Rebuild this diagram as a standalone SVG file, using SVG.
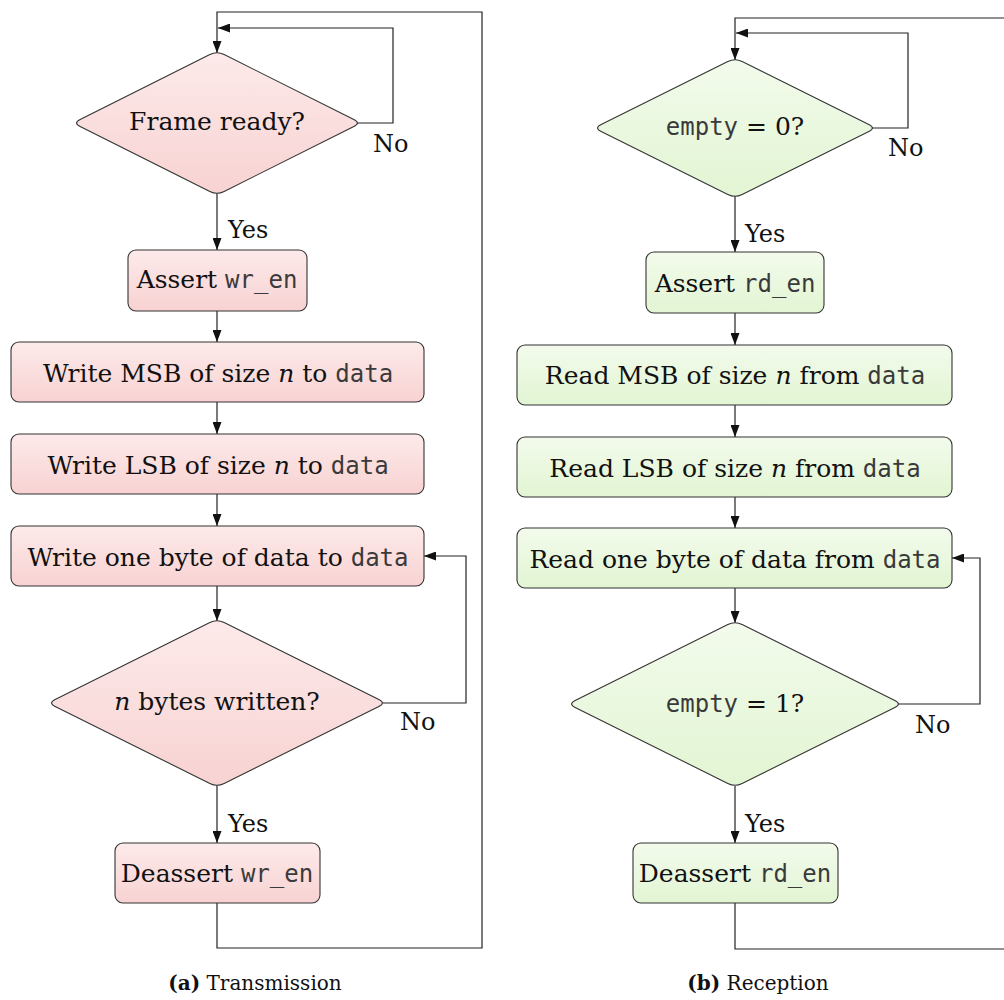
<svg xmlns="http://www.w3.org/2000/svg" width="1004" height="1000" viewBox="0 0 1004 1000">
  <defs>
    <linearGradient id="pinkFill" x1="0" y1="0" x2="0" y2="1">
      <stop offset="0" stop-color="#fdeaea"/>
      <stop offset="1" stop-color="#f8d2d2"/>
    </linearGradient>
    <linearGradient id="greenFill" x1="0" y1="0" x2="0" y2="1">
      <stop offset="0" stop-color="#f3fbec"/>
      <stop offset="1" stop-color="#e2f5d3"/>
    </linearGradient>
    <marker id="arrow" viewBox="0 0 12 9" refX="12" refY="4.5" markerWidth="12" markerHeight="9" markerUnits="userSpaceOnUse" orient="auto">
      <path d="M0,0 L12,4.5 L0,9 Z" fill="#111"/>
    </marker>
  </defs>
  <style>
    .tx rect, .tx path { fill: url(#pinkFill); stroke: #333; stroke-width: 1.1; }
    .rx rect, .rx path { fill: url(#greenFill); stroke: #333; stroke-width: 1.1; }
    .lbl { font-family: "DejaVu Serif", "Liberation Serif", serif; font-size: 25px; fill: #111; text-anchor: middle; }
    .edge { font-family: "DejaVu Serif", "Liberation Serif", serif; font-size: 24px; fill: #111; }
    .mono { font-family: "DejaVu Sans Mono", "Liberation Mono", monospace; font-size: 24px; fill: #3a3a3a; }
    .it { font-style: italic; }
    .cap { font-family: "DejaVu Serif", "Liberation Serif", serif; font-size: 20px; fill: #111; text-anchor: middle; }
    .b { font-weight: bold; }
    .wire { fill: none; stroke: #222; stroke-width: 1.2; }
    .arr { marker-end: url(#arrow); }
  </style>

  <!-- connectors -->
  <g id="connectors">
    <!-- (a) transmission -->
    <path class="wire arr" d="M217,903 V948 H482 V12 H217 V53"/>
    <path class="wire arr" d="M357,123 H393 V28 H218"/>
    <path class="wire arr" d="M217,193 V250"/>
    <path class="wire arr" d="M217,311 V342"/>
    <path class="wire arr" d="M217,402 V434"/>
    <path class="wire arr" d="M217,494 V526"/>
    <path class="wire arr" d="M217,586 V621"/>
    <path class="wire arr" d="M383,703 H466 V556 H424"/>
    <path class="wire arr" d="M217,785 V843"/>
    <!-- (b) reception -->
    <path class="wire arr" d="M735,903 V949 H1010 V18 H735 V60"/>
    <path class="wire arr" d="M872,128 H908 V33 H736"/>
    <path class="wire arr" d="M735,196 V252"/>
    <path class="wire arr" d="M735,313 V345"/>
    <path class="wire arr" d="M735,405 V437"/>
    <path class="wire arr" d="M735,497 V528"/>
    <path class="wire arr" d="M735,588 V623"/>
    <path class="wire arr" d="M898,704 H980 V558 H952"/>
    <path class="wire arr" d="M735,786 V843"/>
  </g>

  <!-- edge labels -->
  <g id="edge-labels" class="edge">
    <text x="373" y="152">No</text>
    <text x="228" y="238">Yes</text>
    <text x="400" y="730">No</text>
    <text x="228" y="832">Yes</text>
    <text x="888" y="156">No</text>
    <text x="745" y="242">Yes</text>
    <text x="915" y="733">No</text>
    <text x="745" y="832">Yes</text>
  </g>

  <!-- (a) transmission nodes -->
  <g id="tx-frame-ready" class="tx">
    <path d="M224.16,54.58 L353.84,119.42 Q361,123 353.84,126.58 L224.16,191.42 Q217,195 209.84,191.42 L80.16,126.58 Q73,123 80.16,119.42 L209.84,54.58 Q217,51 224.16,54.58 Z"/>
    <text class="lbl" x="217" y="130">Frame ready?</text>
  </g>
  <g id="tx-assert" class="tx">
    <rect x="128" y="250" width="179" height="61" rx="8"/>
    <text class="lbl" x="217" y="288">Assert <tspan class="mono">wr_en</tspan></text>
  </g>
  <g id="tx-msb" class="tx">
    <rect x="11" y="342" width="413" height="60" rx="8"/>
    <text class="lbl" x="218" y="382">Write MSB of size <tspan class="it">n</tspan> to <tspan class="mono">data</tspan></text>
  </g>
  <g id="tx-lsb" class="tx">
    <rect x="11" y="434" width="413" height="60" rx="8"/>
    <text class="lbl" x="218" y="474">Write LSB of size <tspan class="it">n</tspan> to <tspan class="mono">data</tspan></text>
  </g>
  <g id="tx-byte" class="tx">
    <rect x="11" y="526" width="413" height="60" rx="8"/>
    <text class="lbl" x="218" y="566">Write one byte of data to <tspan class="mono">data</tspan></text>
  </g>
  <g id="tx-written" class="tx">
    <path d="M224.16,622.56 L378.84,699.44 Q386,703 378.84,706.56 L224.16,783.44 Q217,787 209.84,783.44 L55.16,706.56 Q48,703 55.16,699.44 L209.84,622.56 Q217,619 224.16,622.56 Z"/>
    <text class="lbl" x="217" y="710"><tspan class="it">n</tspan> bytes written?</text>
  </g>
  <g id="tx-deassert" class="tx">
    <rect x="115" y="843" width="205" height="60" rx="8"/>
    <text class="lbl" x="217" y="882">Deassert <tspan class="mono">wr_en</tspan></text>
  </g>

  <!-- (b) reception nodes -->
  <g id="rx-empty0" class="rx">
    <path d="M742.17,61.56 L868.83,124.44 Q876,128 868.83,131.56 L742.17,194.44 Q735,198 727.83,194.44 L601.17,131.56 Q594,128 601.17,124.44 L727.83,61.56 Q735,58 742.17,61.56 Z"/>
    <text class="lbl" x="735" y="135"><tspan class="mono">empty</tspan> = 0?</text>
  </g>
  <g id="rx-assert" class="rx">
    <rect x="646" y="252" width="178" height="61" rx="8"/>
    <text class="lbl" x="735" y="292">Assert <tspan class="mono">rd_en</tspan></text>
  </g>
  <g id="rx-msb" class="rx">
    <rect x="517" y="345" width="435" height="60" rx="8"/>
    <text class="lbl" x="735" y="384">Read MSB of size <tspan class="it">n</tspan> from <tspan class="mono">data</tspan></text>
  </g>
  <g id="rx-lsb" class="rx">
    <rect x="517" y="437" width="435" height="60" rx="8"/>
    <text class="lbl" x="735" y="477">Read LSB of size <tspan class="it">n</tspan> from <tspan class="mono">data</tspan></text>
  </g>
  <g id="rx-byte" class="rx">
    <rect x="517" y="528" width="435" height="60" rx="8"/>
    <text class="lbl" x="735" y="568">Read one byte of data from <tspan class="mono">data</tspan></text>
  </g>
  <g id="rx-empty1" class="rx">
    <path d="M742.16,624.56 L894.84,700.44 Q902,704 894.84,707.56 L742.16,783.44 Q735,787 727.84,783.44 L575.16,707.56 Q568,704 575.16,700.44 L727.84,624.56 Q735,621 742.16,624.56 Z"/>
    <text class="lbl" x="735" y="712"><tspan class="mono">empty</tspan> = 1?</text>
  </g>
  <g id="rx-deassert" class="rx">
    <rect x="633" y="843" width="205" height="60" rx="8"/>
    <text class="lbl" x="735" y="882">Deassert <tspan class="mono">rd_en</tspan></text>
  </g>

  <!-- sub-figure captions -->
  <text class="cap" x="255" y="990"><tspan class="b">(a)</tspan> Transmission</text>
  <text class="cap" x="758" y="990"><tspan class="b">(b)</tspan> Reception</text>
</svg>
